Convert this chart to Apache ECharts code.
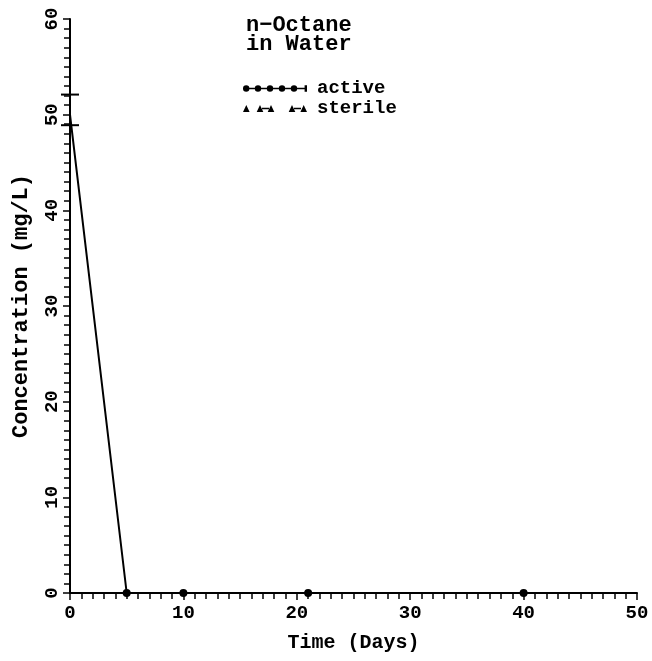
<!DOCTYPE html>
<html><head><meta charset="utf-8">
<script src="https://cdn.jsdelivr.net/npm/echarts@6/dist/echarts.min.js"></script>
<style>html,body{margin:0;padding:0;background:#fff}#c{width:652px;height:661px}</style>
</head><body><div id="c"></div>
<script>
// Data
const activeDays = [0, 5, 10, 21, 40];
const activeConc = [50.0, 0, 0, 0, 0];
const activeErrLow = [48.9];
const activeErrHigh = [52.1];
const errDays = [0];
const sterileDays = [];
const sterileConc = [];
const xTicks = [0, 10, 20, 30, 40, 50];
const yTicks = [0, 10, 20, 30, 40, 50, 60];

const FONT = "'Liberation Mono', 'DejaVu Sans Mono', monospace";
const activeData = activeDays.map((d, i) => i === 0 ? {value: [d, activeConc[i]], symbol: 'none'} : [d, activeConc[i]]);
const errData = errDays.map((d, i) => [d, activeErrLow[i], activeErrHigh[i]]);
const sterileData = sterileDays.map((d, i) => [d, sterileConc[i]]);

// legend icons (64 x 8 units)
const circ = x => `M${x+3.2},4A3.2,3.2 0 1,1 ${x-3.2},4A3.2,3.2 0 1,1 ${x+3.2},4Z`;
const seg = (a, b) => `M${a},3.2h${b-a}v1.6h${-(b-a)}z`;
const activeIcon = 'path://' + [3.2, 15, 27, 39, 51].map(circ).join('') +
  seg(6, 12) + seg(18, 24) + seg(30, 36) + seg(42, 48) + seg(54, 62) + 'M61.6,0.8h2.4v6.4h-2.4z';
const tri = x => `M${x-3.3},7.6L${x},0.4L${x+3.3},7.6Z`;
const sterileIcon = 'path://' + [3.3, 17, 28, 49, 60.7].map(tri).join('') +
  seg(19, 26) + seg(51, 58);

const legText = {fontFamily: FONT, fontSize: 19, fontWeight: 'bold', color: '#000', padding: [0, 0, 0, 5]};
const chart = echarts.init(document.getElementById('c'), null, {renderer: 'canvas'});
chart.setOption({
  animation: false,
  backgroundColor: '#fff',
  textStyle: {fontFamily: FONT, color: '#000', fontWeight: 'bold'},
  title: {
    text: 'n\u2212Octane\nin Water',
    left: 241, top: 11,
    textStyle: {fontFamily: FONT, fontSize: 22, fontWeight: 'bold', color: '#000', lineHeight: 19}
  },
  legend: [
    {
      left: 238, top: 74, itemWidth: 64, itemHeight: 8, itemGap: 4, selectedMode: false,
      textStyle: legText,
      data: [{name: 'active', icon: activeIcon, itemStyle: {color: '#000'}}]
    },
    {
      left: 238, top: 94, itemWidth: 64, itemHeight: 8, itemGap: 4, selectedMode: false,
      textStyle: legText,
      data: [{name: 'sterile', icon: sterileIcon, itemStyle: {color: '#000'}}]
    }
  ],
  grid: {left: 70, right: 15, top: 19, bottom: 68, outerBoundsMode: 'none', containLabel: false},
  xAxis: {
    type: 'value', min: 0, max: 50, interval: 10,
    name: 'Time (Days)', nameLocation: 'middle', nameGap: 40,
    nameTextStyle: {fontFamily: FONT, fontSize: 20, fontWeight: 'bold', color: '#000'},
    axisLine: {lineStyle: {color: '#000', width: 2}},
    axisTick: {show: true, length: 7, lineStyle: {color: '#000', width: 1.5}},
    minorTick: {show: true, splitNumber: 10, length: 6, lineStyle: {color: '#000', width: 1.5}},
    splitLine: {show: false},
    axisLabel: {fontFamily: FONT, fontSize: 19, fontWeight: 'bold', color: '#000', margin: 11,
      formatter: v => xTicks.includes(v) ? String(v) : ''}
  },
  yAxis: {
    type: 'value', min: 0, max: 60, interval: 10,
    name: 'Concentration (mg/L)', nameLocation: 'middle', nameGap: 38,
    nameTextStyle: {fontFamily: FONT, fontSize: 22, fontWeight: 'bold', color: '#000'},
    axisLine: {lineStyle: {color: '#000', width: 2}},
    axisTick: {show: true, length: 7, lineStyle: {color: '#000', width: 1.5}},
    minorTick: {show: true, splitNumber: 10, length: 6, lineStyle: {color: '#000', width: 1.5}},
    splitLine: {show: false},
    axisLabel: {fontFamily: FONT, fontSize: 19, fontWeight: 'bold', color: '#000', rotate: 90, margin: 8,
      formatter: v => yTicks.includes(v) ? String(v) : ''}
  },
  series: [
    {
      name: 'active', type: 'line', data: activeData,
      symbol: 'circle', symbolSize: 8,
      lineStyle: {color: '#000', width: 2},
      itemStyle: {color: '#000'},
      z: 3
    },
    {
      name: 'sterile', type: 'line', data: sterileData,
      symbol: 'triangle', symbolSize: 7,
      lineStyle: {color: '#000', width: 2},
      itemStyle: {color: '#000'}
    },
    {
      name: 'activeErr', type: 'custom', data: errData, clip: false,
      renderItem: (params, api) => {
        const lo = api.coord([api.value(0), api.value(1)]);
        const hi = api.coord([api.value(0), api.value(2)]);
        const hw = 9;
        const st = {stroke: '#000', lineWidth: 2};
        return {type: 'group', children: [
          {type: 'line', shape: {x1: lo[0], y1: lo[1], x2: hi[0], y2: hi[1]}, style: st},
          {type: 'line', shape: {x1: lo[0]-hw, y1: lo[1], x2: lo[0]+hw, y2: lo[1]}, style: st},
          {type: 'line', shape: {x1: hi[0]-hw, y1: hi[1], x2: hi[0]+hw, y2: hi[1]}, style: st}
        ]};
      },
      z: 4
    }
  ]
});
</script></body></html>
